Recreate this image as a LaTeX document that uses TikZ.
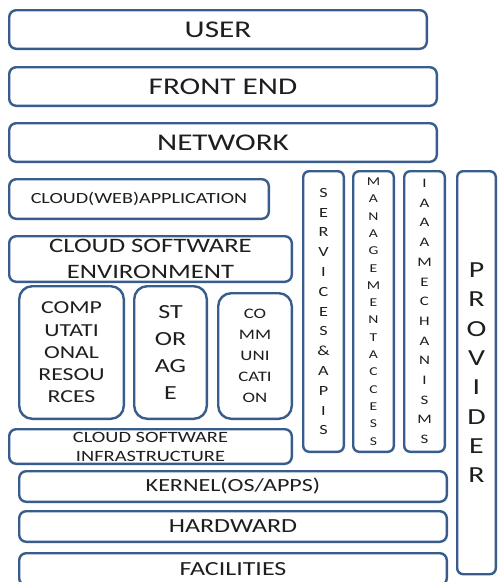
\documentclass[tikz,border=0pt]{standalone}
\usepackage{fontspec}
\setmainfont{Carlito}[FakeStretch=1.3]
\usetikzlibrary{positioning}
\definecolor{boxblue}{RGB}{56,93,140}
\definecolor{inkgray}{RGB}{30,30,30}
\newcommand{\fsize}[2]{\fontsize{#1}{#2}\selectfont}

\begin{document}
\begin{tikzpicture}[x=1pt,y=-1pt,node distance=15pt]
  \tikzstyle{layer} = [draw=boxblue,line width=2.4pt,rounded corners=7pt,rectangle,fill=white,inner sep=0pt,text=inkgray,align=center]
  \tikzstyle{block} = [layer,rounded corners=13pt,minimum height=132.6pt]
  \tikzstyle{column} = [layer,rounded corners=6pt,minimum width=40.6pt,minimum height=280.6pt]
  \clip (0,0) rectangle (499,582);

  % user side stack
  \node [layer,minimum width=417.6pt,minimum height=38.6pt,font=\fsize{24}{28}] (user) at (218,29.5) {USER};
  \node [layer,below right=16pt and 0pt of user.south west,minimum width=427.6pt,minimum height=38.6pt,font=\fsize{24}{28}] (frontend) {FRONT END};
  \node [layer,below right=15pt and 0pt of frontend.south west,minimum width=427.6pt,minimum height=38.6pt,font=\fsize{24}{28}] (network) {NETWORK};
  \node [layer,below right=15pt and 0pt of network.south west,minimum width=259.6pt,minimum height=39.6pt,font=\fsize{15.5}{18}] (webapp) {CLOUD(WEB)APPLICATION};
  \node [layer,below right=15pt and 0pt of webapp.south west,minimum width=282.6pt,minimum height=45.6pt,font=\fsize{20.5}{26.7}] (swenv) {CLOUD SOFTWARE\\ENVIRONMENT};

  % resources
  \node [block,below right=2pt and 10pt of swenv.south west,minimum width=104.6pt,font=\fsize{18.3}{22.3}] (comp) {COMP\\UTATI\\ONAL\\RESOU\\RCES};
  \node [block,below right=0pt and 8pt of comp.north east,minimum width=72.6pt,font=\fsize{20}{26.7}] (storage) {ST\\OR\\AG\\E};
  \node [block,below right=7pt and 9pt of storage.north east,minimum width=73.6pt,minimum height=125.6pt,font=\fsize{14.5}{21}] (comm) {CO\\MM\\UNI\\CATI\\ON};
  \node [layer,below right=8pt and -10pt of comp.south west,minimum width=282.6pt,minimum height=34.6pt,font=\fsize{15.7}{19}] (swinfra) {CLOUD SOFTWARE\\INFRASTRUCTURE};

  % provider side stack
  \node [layer,below right=5pt and 10pt of swinfra.south west,minimum width=427.6pt,minimum height=30.6pt,font=\fsize{18.5}{22}] (kernel) {KERNEL(OS/APPS)};
  \node [layer,below right=7pt and 0pt of kernel.south west,minimum width=427.6pt,minimum height=30.6pt,font=\fsize{20}{24}] (hardware) {HARDWARD};
  \node [layer,below right=9pt and 0pt of hardware.south west,minimum width=427.6pt,minimum height=32pt,font=\fsize{20}{24}] (facilities) {FACILITIES};

  % vertical columns
  \node [column,anchor=north west,font=\fsize{14}{19.8}] (services) at (302,170) {S\\E\\R\\V\\I\\C\\E\\S\\\&\\A\\P\\I\\S};
  \node [column,right=7pt of services,font=\fsize{12}{17.3}] (mgmt) {M\\A\\N\\A\\G\\E\\M\\E\\N\\T\\A\\C\\C\\E\\S\\S};
  \node [column,right=8pt of mgmt,font=\fsize{13}{19.7}] (aaa) {I\\A\\A\\A\\M\\E\\C\\H\\A\\N\\I\\S\\M\\S};
  \node [column,below right=0pt and 10pt of aaa.north east,minimum width=38.6pt,minimum height=403pt,font=\fsize{23}{29.3}] (provider) {P\\R\\O\\V\\I\\D\\E\\R};

\end{tikzpicture}
\end{document}
